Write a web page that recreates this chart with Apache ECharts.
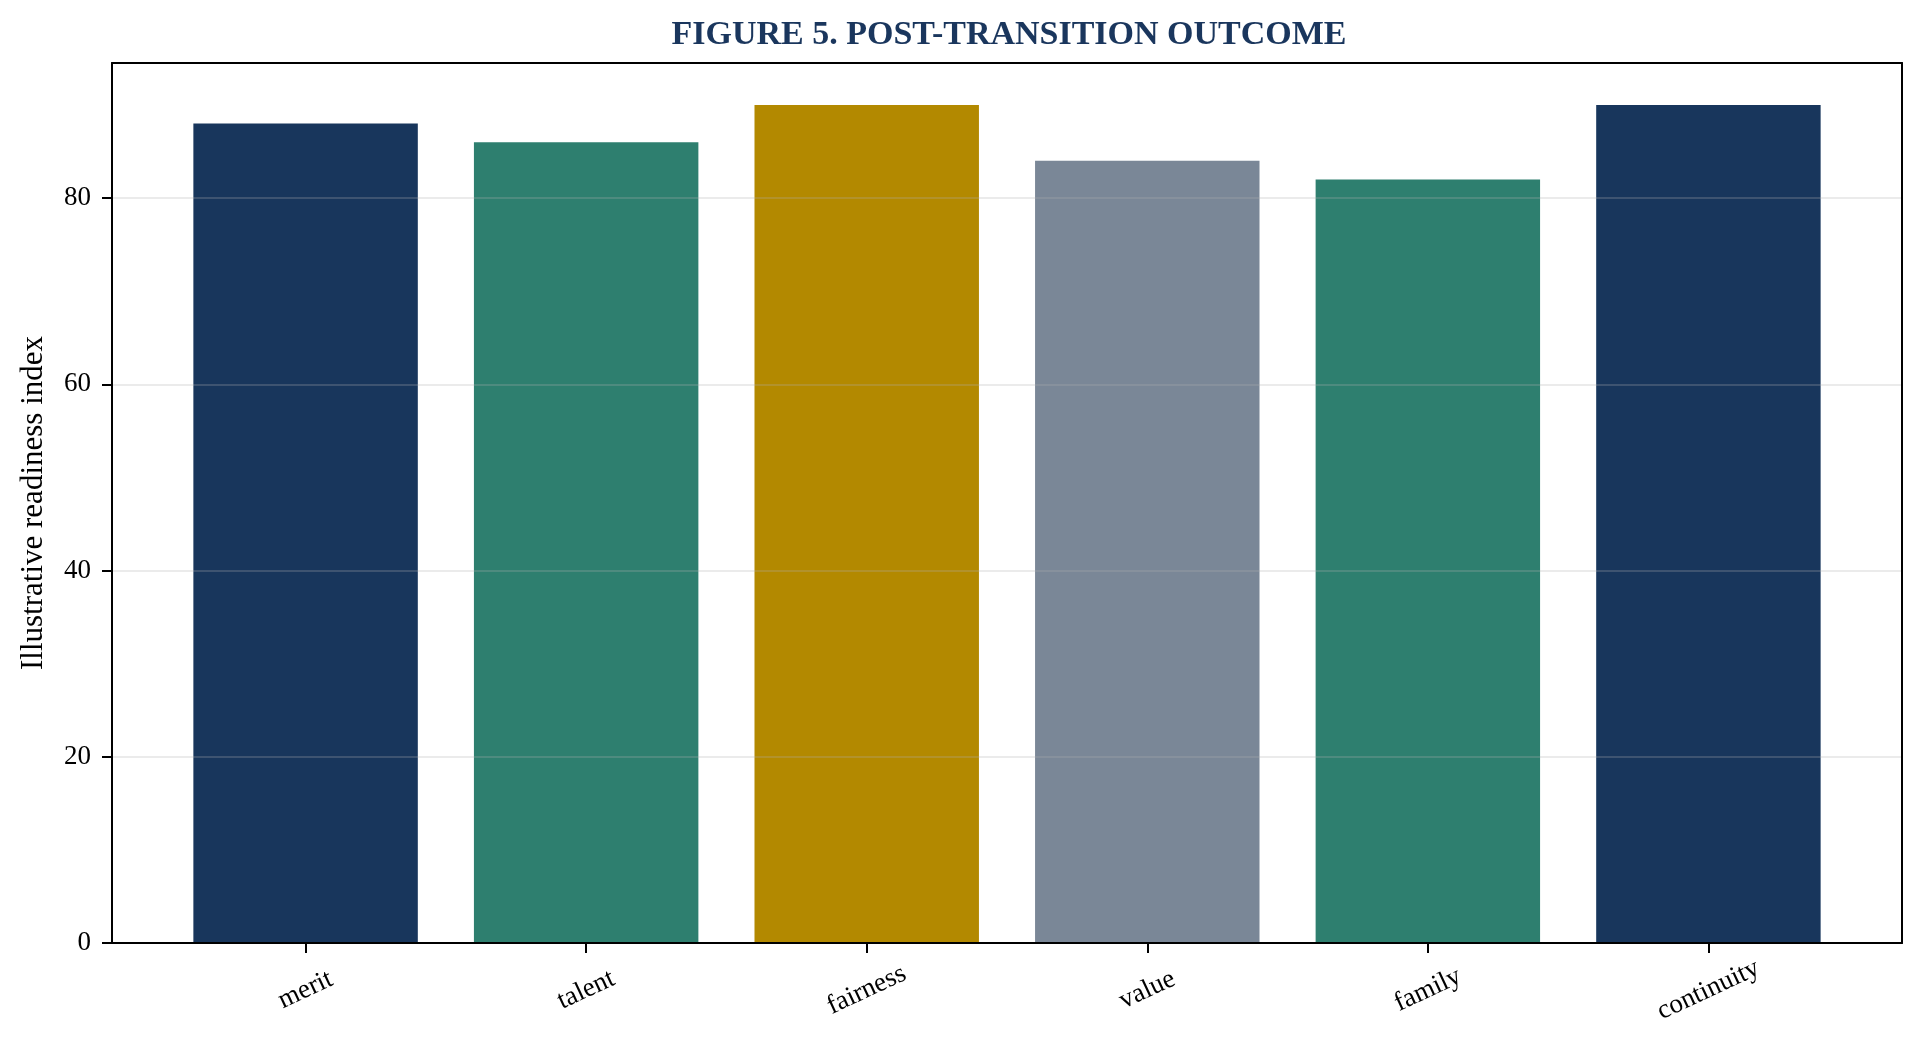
<!DOCTYPE html>
<html>
<head>
<meta charset="utf-8">
<script src="https://cdn.jsdelivr.net/npm/echarts@6/dist/echarts.min.js"></script>
<style>
  html, body { margin: 0; padding: 0; background: #fff; }
  #chart { width: 1924px; height: 1054px; }
</style>
</head>
<body>
<div id="chart"></div>
<script>
// data
const categories = ['merit', 'talent', 'fairness', 'value', 'family', 'continuity'];
const readiness = [88, 86, 90, 84, 82, 90];
const barColors = ['#18365c', '#2e7f6f', '#b38900', '#7a8797', '#2e7f6f', '#18365c'];
const yTicks = [0, 20, 40, 60, 80];
const yMax = 94.5;

const serif = 'Liberation Serif';

let chart = echarts.init(document.getElementById('chart'));

// frame box (grid 0) spans the full axes; bars sit in grid 1 whose bands match matplotlib's margins
const frame = { left: 112, top: 63, right: 22, bottom: 111 };
const bandW = (1924 - frame.left - frame.right) / 6.38;
const barsLeft = frame.left + 0.69 * bandW - 0.5 * bandW;

const edge = { show: true, onZero: false, lineStyle: { color: '#000', width: 2 } };

chart.setOption({
  backgroundColor: '#fff',
  animation: false,
  title: {
    text: 'FIGURE 5. POST-TRANSITION OUTCOME',
    left: 1004,
    textAlign: 'center',
    top: 13,
    textStyle: { fontFamily: serif, fontWeight: 'bold', fontSize: 34, lineHeight: 34, color: '#1a365d' }
  },
  grid: [
    { left: frame.left, top: frame.top, right: frame.right, bottom: frame.bottom },
    { left: barsLeft, top: frame.top, width: bandW * 6, bottom: frame.bottom }
  ],
  xAxis: [
    { gridIndex: 0, type: 'value', min: 0, max: 1, position: 'bottom', z: 5, axisLine: edge,
      axisTick: { show: false }, axisLabel: { show: false }, splitLine: { show: false } },
    { gridIndex: 0, type: 'value', min: 0, max: 1, position: 'top', z: 5, axisLine: edge,
      axisTick: { show: false }, axisLabel: { show: false }, splitLine: { show: false } },
    { gridIndex: 1, type: 'category', data: categories, z: 5,
      axisLine: { show: false },
      axisTick: { show: true, alignWithLabel: true, length: 10, lineStyle: { color: '#000', width: 2 } },
      axisLabel: { rotate: 25, align: 'center', verticalAlign: 'middle', margin: 47,
        fontFamily: serif, fontSize: 27, color: '#000' } }
  ],
  yAxis: [
    { gridIndex: 0, type: 'value', min: 0, max: yMax, interval: 20, position: 'left', z: 5,
      name: 'Illustrative readiness index', nameLocation: 'middle', nameGap: 63,
      nameTextStyle: { fontFamily: serif, fontSize: 31, color: '#000' },
      axisLine: edge,
      axisTick: { show: true, length: 10, customValues: yTicks, lineStyle: { color: '#000', width: 2 } },
      axisLabel: { customValues: yTicks, margin: 21, fontFamily: serif, fontSize: 27, color: '#000' },
      splitLine: { show: true, lineStyle: { color: 'rgba(176,176,176,0.25)', width: 2 } } },
    { gridIndex: 0, type: 'value', min: 0, max: yMax, position: 'right', z: 5, axisLine: edge,
      axisTick: { show: false }, axisLabel: { show: false }, splitLine: { show: false } },
    { gridIndex: 1, type: 'value', min: 0, max: yMax, show: false }
  ],
  series: [{
    type: 'bar',
    xAxisIndex: 2,
    yAxisIndex: 2,
    barWidth: '80%',
    data: readiness.map((v, i) => ({ value: v, itemStyle: { color: barColors[i] } }))
  }]
});
</script>
</body>
</html>
